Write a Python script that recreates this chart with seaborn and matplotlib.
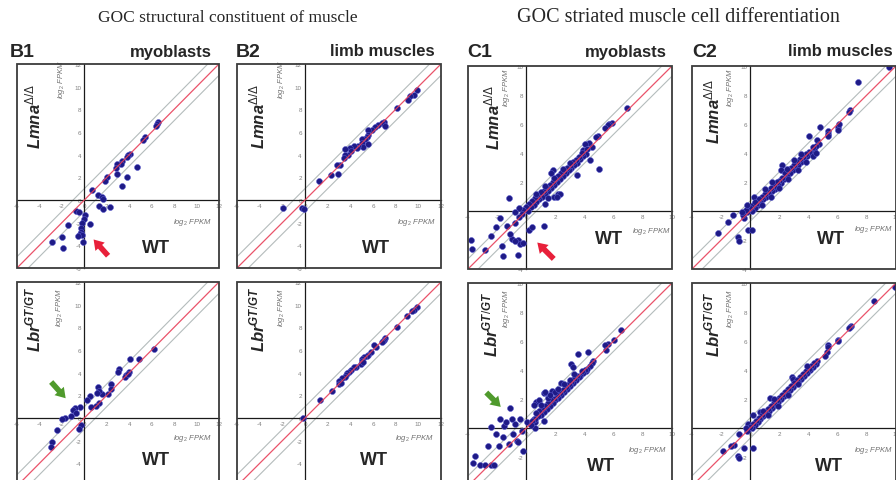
import matplotlib
matplotlib.use('Agg')
import matplotlib.pyplot as plt
import seaborn as sns
import pandas as pd
from matplotlib.patches import Rectangle

# ---- data (log2 FPKM, WT on x, mutant on y) ----
b1_lmna = [(6.6, 6.9), (6.5, 6.7), (6.4, 6.5), (5.4, 5.6), (5.2, 5.3), (4.1, 4.1), (3.9, 4.0),
           (3.8, 3.8), (3.4, 3.4), (3.3, 3.2), (2.9, 3.2), (2.8, 2.8), (4.7, 2.9), (3.8, 2.0),
           (3.4, 1.2), (2.9, 2.3), (2.0, 2.0), (1.8, 1.7), (0.7, 0.9), (1.2, 0.4), (1.6, 0.3),
           (1.7, 0.1), (1.3, -0.5), (1.7, -0.8), (2.3, -0.6), (-0.7, -1.0), (-0.5, -1.1),
           (0.1, -1.3), (0.0, -1.7), (0.5, -2.1), (-1.5, -2.2), (-0.2, -2.0), (-0.3, -2.5),
           (-0.3, -2.8), (-0.4, -3.0), (-0.2, -3.1), (-0.6, -3.2), (-2.0, -3.3), (-0.1, -3.7),
           (-2.9, -3.7), (-1.9, -4.2)]
b2_lmna = [(9.9, 9.7), (9.6, 9.3), (9.3, 9.2), (9.1, 8.8), (8.1, 8.1), (7.0, 6.9), (6.8, 6.8),
           (7.1, 6.5), (6.4, 6.6), (6.2, 6.4), (5.9, 6.2), (5.6, 6.2), (5.6, 5.7), (5.5, 5.6),
           (5.3, 5.4), (5.0, 5.4), (5.0, 5.0), (5.1, 4.7), (5.6, 4.9), (4.7, 4.8), (4.6, 4.6),
           (4.3, 4.8), (4.0, 4.6), (4.1, 4.3), (3.8, 4.0), (3.5, 4.5), (3.5, 4.0), (3.4, 3.7),
           (3.1, 3.1), (2.8, 3.1), (2.9, 2.3), (2.3, 2.2), (1.2, 1.7), (-1.9, -0.7), (-0.3, -0.7),
           (-0.1, -0.8)]
b1_lbr = [(6.2, 6.1), (4.9, 5.2), (4.1, 5.2), (3.1, 4.3), (3.0, 4.1), (4.0, 4.1), (3.7, 3.8),
          (3.6, 3.6), (3.9, 3.9), (2.4, 3.0), (2.4, 2.6), (2.1, 2.1), (1.6, 2.1), (1.2, 2.7),
          (1.3, 2.4), (1.1, 2.2), (0.5, 1.9), (0.2, 1.6), (1.3, 1.3), (1.0, 1.1), (0.6, 1.0),
          (-0.4, 1.0), (-0.8, 0.9), (-1.0, 0.7), (-0.7, 0.4), (-1.2, 0.2), (-1.7, 0.0),
          (-2.0, -0.1), (-0.3, -0.6), (-0.5, -1.0), (-2.4, -1.1), (-2.9, -2.1), (-3.0, -2.6)]
b2_lbr = [(9.9, 9.8), (9.6, 9.5), (9.4, 9.4), (9.0, 9.0), (8.1, 8.0), (7.1, 7.1), (7.0, 6.9),
          (6.9, 6.8), (6.8, 6.7), (6.3, 6.3), (6.1, 6.4), (5.8, 5.8), (5.6, 5.6), (5.5, 5.5),
          (5.2, 5.4), (5.0, 5.2), (5.0, 5.0), (4.9, 4.8), (5.1, 4.9), (4.5, 4.5), (4.3, 4.5),
          (4.1, 4.2), (3.9, 4.1), (3.7, 4.0), (3.6, 3.8), (3.5, 3.6), (3.3, 3.5), (3.0, 3.3),
          (3.0, 3.0), (3.2, 3.1), (2.4, 2.4), (1.3, 1.6), (-0.2, 0.0)]
c1_lmna = [(6.9, 7.1), (5.9, 6.1), (5.7, 6.0), (5.6, 5.9), (5.4, 5.7), (4.9, 5.2), (4.8, 5.1),
           (4.3, 4.7), (4.0, 4.6), (5.0, 2.9), (4.4, 3.5), (3.5, 2.5), (3.9, 4.2),
           (4.5, 4.4), (4.2, 4.3), (4.1, 3.9), (3.9, 3.8), (3.8, 4.0), (3.7, 3.6), (3.6, 3.7),
           (3.5, 3.3), (3.4, 3.5), (3.3, 3.2), (3.2, 3.4), (3.1, 3.0), (3.0, 3.1), (2.9, 2.8),
           (2.8, 3.0), (2.7, 2.6), (2.6, 2.7), (2.5, 2.4), (2.4, 2.6), (2.3, 2.2), (2.2, 2.4),
           (2.1, 2.0), (2.0, 2.2), (1.9, 1.8), (1.8, 2.0), (1.7, 1.6), (1.6, 1.8), (1.5, 1.4),
           (1.4, 1.6), (1.3, 1.2), (1.2, 1.4), (1.1, 1.0), (1.0, 1.3), (0.9, 0.8), (0.8, 1.0),
           (0.7, 0.6), (0.6, 0.9), (0.5, 0.4), (0.4, 0.7), (0.3, 0.3), (0.2, 0.5), (0.1, 0.0),
           (0.0, 0.3), (-0.2, 0.1), (-0.3, -0.2), (3.0, 3.3), (2.5, 2.9), (1.9, 2.3), (1.3, 1.7),
           (0.7, 1.2), (1.8, 2.8), (1.7, 2.6), (2.2, 1.2), (2.3, 1.2), (1.9, 1.0), (1.5, 0.9),
           (1.3, 0.5), (2.1, 1.0),
           (-1.2, 0.9), (-0.5, 0.2), (-0.8, -0.1), (-1.8, -0.5), (-1.3, -1.0), (-0.8, -0.8),
           (-0.5, -0.4), (-2.4, -1.7), (-3.8, -2.0), (-3.7, -2.6), (-2.8, -2.7), (-1.0, -1.9),
           (-0.6, -2.0), (-0.4, -2.3), (-0.2, -2.2), (-0.8, -2.1), (0.2, -1.3), (0.4, -1.1),
           (1.2, -1.0), (-1.7, -2.4), (-0.6, -3.0), (-1.6, -3.1), (-1.1, -1.6), (-2.1, -1.1)]
c2_lmna = [(9.55, 9.9), (7.4, 8.9), (6.85, 6.95), (6.8, 6.8), (6.05, 5.8), (6.1, 6.0), (6.0, 5.6),
           (4.8, 5.8), (5.3, 5.5), (5.35, 5.3), (5.3, 5.2), (4.05, 5.2), (4.6, 4.9), (2.2, 3.2),
           (2.1, 2.8), (0.25, 1.0), (-1.2, -0.3), (-2.2, -1.5), (-1.5, -0.75), (-0.15, -1.3),
           (0.1, -1.3), (-0.85, -1.8), (-0.75, -2.1), (-0.4, -0.5),
           (4.7, 4.6), (4.5, 4.5), (4.4, 4.2), (4.3, 4.4), (4.2, 4.0), (4.0, 4.1), (3.9, 3.8),
           (3.8, 3.9), (3.7, 3.5), (3.6, 3.7), (3.5, 3.4), (3.4, 3.6), (3.3, 3.2), (3.2, 3.4),
           (3.1, 3.0), (3.0, 3.2), (2.9, 2.8), (2.8, 3.0), (2.7, 2.6), (2.6, 2.8), (2.5, 2.4),
           (2.4, 2.6), (2.3, 2.2), (2.2, 2.3), (2.1, 1.9), (2.0, 2.1), (1.9, 1.8), (1.8, 2.0),
           (1.7, 1.5), (1.6, 1.7), (1.5, 1.4), (1.4, 1.6), (1.3, 1.2), (1.2, 1.3), (1.1, 1.0),
           (1.0, 1.2), (0.9, 0.8), (0.8, 1.0), (0.7, 0.6), (0.6, 0.8), (0.5, 0.4), (0.4, 0.5),
           (0.3, 0.2), (0.2, 0.4), (0.1, 0.0), (0.0, 0.2), (-0.2, -0.1), (-0.3, 0.1), (-0.5, -0.3),
           (-0.6, -0.1), (3.5, 3.9), (3.0, 3.5), (2.5, 2.9), (1.5, 2.0), (1.0, 1.5), (3.8, 3.4),
           (3.3, 2.8), (2.6, 2.2), (2.0, 1.6), (1.4, 1.0), (0.8, 0.4), (4.3, 3.8), (4.5, 4.0),
           (0.3, 0.6), (-0.2, 0.4)]
c1_lbr = [(6.5, 6.75), (6.0, 6.05), (5.6, 5.8), (5.4, 5.7), (5.5, 5.35), (4.25, 5.25), (3.55, 5.1),
          (3.1, 4.4), (3.2, 4.2), (4.6, 4.65), (4.5, 4.5), (4.1, 3.9), (2.4, 3.1), (1.75, 2.55),
          (1.2, 2.4), (1.3, 2.5), (0.7, 1.8), (0.9, 1.9), (0.5, 1.6), (1.2, 0.5), (0.6, 0.0),
          (0.5, 0.65), (0.6, 0.4), (0.05, 0.4), (-1.1, 1.35), (-1.8, 0.65), (-1.55, 0.15),
          (-2.4, 0.05), (-2.6, -1.25), (-3.5, -1.95), (-3.2, -2.55), (-3.65, -2.4), (-2.8, -2.55),
          (-2.4, -2.55), (-2.2, -2.55), (-1.9, -1.25), (-1.2, -1.1), (-0.65, -0.9), (-0.55, -1.0),
          (-0.2, -1.6), (-1.0, 0.6), (-1.4, 0.4), (-0.8, 0.3), (-0.4, 0.6), (-2.1, -0.4),
          (-0.9, -0.4), (-1.6, -0.6), (-0.3, -0.2),
          (4.4, 4.3), (4.2, 4.1), (4.0, 4.0), (3.9, 3.8), (3.8, 3.9), (3.7, 3.6), (3.6, 3.5),
          (3.5, 3.6), (3.4, 3.3), (3.3, 3.4), (3.2, 3.1), (3.1, 3.2), (3.0, 2.9), (2.9, 3.0),
          (2.8, 2.7), (2.7, 2.8), (2.6, 2.5), (2.5, 2.6), (2.4, 2.3), (2.3, 2.4), (2.2, 2.1),
          (2.1, 2.3), (2.0, 1.9), (1.9, 2.0), (1.8, 1.7), (1.7, 1.9), (1.6, 1.5), (1.5, 1.7),
          (1.4, 1.3), (1.3, 1.5), (1.2, 1.1), (1.1, 1.3), (1.0, 0.9), (0.9, 1.2), (0.8, 0.8),
          (0.7, 1.0), (0.6, 0.6), (0.4, 0.5), (0.3, 0.2), (2.6, 3.0), (2.0, 2.5), (1.5, 2.1),
          (1.0, 1.6), (3.3, 3.7), (3.0, 3.3), (2.2, 2.7), (1.6, 2.3)]
c2_lbr = [(9.9, 9.75), (8.5, 8.75), (6.9, 7.05), (6.85, 7.0), (6.8, 6.9), (6.05, 6.05), (6.0, 6.0),
          (5.35, 5.7), (5.3, 5.6), (5.25, 5.25), (5.1, 4.95), (2.85, 3.5), (3.0, 3.3), (2.9, 3.4),
          (2.05, 2.1), (1.35, 2.05), (0.7, 1.1), (0.2, 0.9), (-0.15, 0.3), (-0.75, -0.4),
          (-1.9, -1.6), (-1.1, -1.2), (-1.3, -1.25), (-0.4, -1.35), (0.2, -1.4), (-0.85, -1.9),
          (-0.75, -2.05),
          (4.6, 4.6), (4.5, 4.4), (4.4, 4.5), (4.3, 4.2), (4.2, 4.3), (4.1, 4.0), (4.0, 4.1),
          (3.9, 3.8), (3.8, 3.9), (3.7, 3.6), (3.6, 3.7), (3.5, 3.4), (3.4, 3.5), (3.3, 3.2),
          (3.2, 3.3), (3.1, 3.0), (3.0, 3.1), (2.9, 2.8), (2.8, 2.9), (2.7, 2.6), (2.6, 2.7),
          (2.5, 2.4), (2.4, 2.5), (2.3, 2.2), (2.2, 2.3), (2.1, 2.0), (2.0, 2.1), (1.9, 1.8),
          (1.8, 1.9), (1.7, 1.6), (1.6, 1.7), (1.5, 1.4), (1.4, 1.5), (1.3, 1.2), (1.2, 1.3),
          (1.1, 1.0), (1.0, 1.1), (0.9, 0.8), (0.8, 0.9), (0.7, 0.6), (0.6, 0.7), (0.5, 0.4),
          (0.4, 0.5), (0.3, 0.2), (0.2, 0.3), (0.1, 0.0), (0.0, 0.1), (-0.2, -0.2), (-0.3, 0.0),
          (3.3, 3.0), (2.6, 2.3), (1.9, 1.5), (1.2, 0.9), (3.9, 4.3), (1.6, 2.0), (0.9, 1.2)]

titles = ['GOC structural constituent of muscle', 'GOC striated muscle cell differentiation']
panel_tags = ['B1', 'B2', 'C1', 'C2']
tissues = ['myoblasts', 'limb muscles', 'myoblasts', 'limb muscles']
mutants = [r'Lmna$^{\Delta/\Delta}$', r'Lbr$^{GT/GT}$']
b_ticks = list(range(-6, 13, 2))
c_ticks = list(range(-4, 11, 2))

sns.set_style('white')
plt.rcParams['font.family'] = ['Liberation Sans', 'DejaVu Sans']
plt.rcParams['mathtext.fontset'] = 'custom'
plt.rcParams['mathtext.rm'] = 'Liberation Sans'
plt.rcParams['mathtext.it'] = 'Liberation Sans:italic:bold'
plt.rcParams['mathtext.bf'] = 'Liberation Sans:bold'

W, H = 896, 481
fig = plt.figure(figsize=(W / 100, H / 100), dpi=100)


def px_axes(left, top, w, h):
    return fig.add_axes([left / W, 1 - (top + h) / H, w / W, h / H])


# (data, ticks, offset of grey lines, rect, mutant label pos, WT pos, xlabel pos, ylabel pos, arrow)
panels = [
    (b1_lmna, b_ticks, 1.0, (17, 65, 202, 204), 0, (0.08, 0.75), (0.69, 0.10), (0.87, 0.23), (0.22, 0.93),
     ((0.37, 0.15), (0.46, 0.05), '#e8203a')),
    (b2_lmna, b_ticks, 1.0, (237, 65, 204, 204), 0, (0.10, 0.75), (0.68, 0.10), (0.88, 0.23), (0.22, 0.93), None),
    (c1_lmna, c_ticks, 0.7, (468, 67, 204, 203), 0, (0.12, 0.75), (0.69, 0.15), (0.90, 0.19), (0.19, 0.90),
     ((0.33, 0.14), (0.43, 0.04), '#e8203a')),
    (c2_lmna, c_ticks, 0.7, (692, 67, 204, 203), 0, (0.10, 0.78), (0.68, 0.15), (0.89, 0.20), (0.19, 0.90), None),
    (b1_lbr, b_ticks, 1.0, (17, 283, 202, 204), 1, (0.08, 0.82), (0.69, 0.13), (0.87, 0.24), (0.21, 0.88),
     ((0.25, 0.42), (0.16, 0.52), '#4f9a2c')),
    (b2_lbr, b_ticks, 1.0, (237, 283, 204, 204), 1, (0.10, 0.82), (0.67, 0.13), (0.87, 0.24), (0.22, 0.88), None),
    (c1_lbr, c_ticks, 0.7, (468, 284, 204, 203), 1, (0.11, 0.80), (0.65, 0.10), (0.88, 0.18), (0.19, 0.88),
     ((0.17, 0.38), (0.08, 0.47), '#4f9a2c')),
    (c2_lbr, c_ticks, 0.7, (692, 284, 204, 203), 1, (0.10, 0.80), (0.67, 0.10), (0.89, 0.18), (0.19, 0.88), None),
]

for pts, ticks, off, rect, mi, mpos, wtpos, xlpos, ylpos, arrow in panels:
    ax = px_axes(*rect)
    df = pd.DataFrame(pts, columns=['WT', 'mutant'])
    lo, hi = ticks[0], ticks[-1]
    ax.set_xlim(lo, hi)
    ax.set_ylim(lo, hi)

    # diagonal guides
    ax.axline((0, off), slope=1, color='#b4bcbc', lw=0.8, zorder=2)
    ax.axline((0, -off), slope=1, color='#b4bcbc', lw=0.8, zorder=2)
    sns.scatterplot(data=df, x='WT', y='mutant', ax=ax, s=18, color='#1e1a86',
                    edgecolor='#5656c8', linewidth=0.4, zorder=3, legend=False)
    ax.axline((0, 0), slope=1, color='#e8405a', lw=0.9, alpha=0.9, zorder=4)

    # axes crossing at the origin
    for side in ['top', 'right']:
        ax.spines[side].set_visible(False)
    for side in ['left', 'bottom']:
        ax.spines[side].set_position(('data', 0))
        ax.spines[side].set_color('#1a1a1a')
        ax.spines[side].set_linewidth(0.9)
    ax.set_xticks(ticks)
    ax.set_yticks(ticks)
    ax.set_xticklabels([str(t) for t in ticks])
    ax.set_yticklabels([str(t) for t in ticks])
    ax.tick_params(direction='inout', length=2.5, width=0.6, color='#333333',
                   labelsize=4.5, labelcolor='#808080', pad=1)
    ax.set_xlabel('')
    ax.set_ylabel('')
    ax.add_patch(Rectangle((0, 0), 1, 1, transform=ax.transAxes, fill=False,
                           lw=1.3, ec='#3c3c3c', clip_on=False, zorder=6))

    ax.text(*mpos, mutants[mi], transform=ax.transAxes, rotation=90, ha='center', va='center',
            fontsize=12, fontweight='bold', style='italic')
    ax.text(*wtpos, 'WT', transform=ax.transAxes, ha='center', va='center',
            fontsize=13, fontweight='bold')
    ax.text(*xlpos, r'log$_2$ FPKM', transform=ax.transAxes, ha='center', va='center',
            fontsize=5.5, style='italic', color='#707070')
    ax.text(*ylpos, r'log$_2$ FPKM', transform=ax.transAxes, ha='center', va='center',
            fontsize=5.5, style='italic', color='#707070', rotation=90)
    if arrow:
        head, tail, col = arrow
        ax.annotate('', xy=head, xytext=tail, xycoords='axes fraction', textcoords='axes fraction',
                    arrowprops=dict(arrowstyle='simple,head_length=0.7,head_width=0.9,tail_width=0.4',
                                    fc=col, ec='none', mutation_scale=10), zorder=7)

# panel headers
tag_x = [10, 236, 467, 692]
tissue_x = [212, 435, 667, 893]
for tag, tx, tissue, rx in zip(panel_tags, tag_x, tissues, tissue_x):
    fig.text(tx / W, 1 - 53 / H, tag, ha='left', va='center', fontsize=14, fontweight='bold')
    fig.text(rx / W, 1 - 52 / H, tissue, ha='right', va='center', fontsize=12, fontweight='bold')

for title, cx, fs in zip(titles, [228, 678], [12.5, 14.5]):
    fig.text(cx / W, 1 - 18 / H, title, ha='center', va='center', fontsize=fs,
             family='Liberation Serif')

plt.savefig('out.png', dpi=100)
plt.close()
